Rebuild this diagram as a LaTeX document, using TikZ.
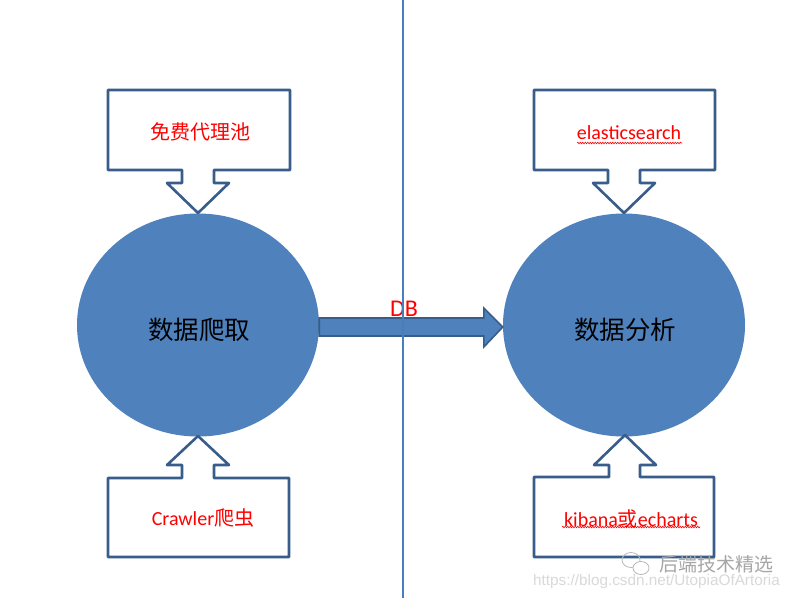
\documentclass[tikz,border=0pt]{standalone}
\usepackage{fontspec}
\setmainfont{Carlito}
\newfontfamily\cjk{Noto Sans CJK SC}
\newfontfamily\wm{Liberation Sans}
\usetikzlibrary{shapes.geometric,decorations.pathmorphing}
\definecolor{fillblue}{HTML}{4F81BD}
\definecolor{edgeblue}{HTML}{385D8A}
\definecolor{lineblue}{HTML}{4A7EBB}
\begin{document}
\begin{tikzpicture}[x=1pt,y=-1pt,
  callout/.style={draw=edgeblue,line width=2.6pt,line join=round,fill=white},
  blob/.style={ellipse,fill=fillblue,minimum width=242pt,minimum height=223pt,inner sep=0pt},
  bigtext/.style={font=\cjk\fontsize{25.5}{30}\selectfont,text=black},
  lbl/.style={font=\fontsize{20}{24}\selectfont,text=red},
  wavy/.style={draw=red,line width=0.6pt,decorate,decoration={snake,amplitude=0.8pt,segment length=2.5pt}}]
\useasboundingbox (0,0) rectangle (797,600);
\fill[white] (0,0) rectangle (797,600);
% ellipses
\node[blob] (crawl) at (198,325) {};
\node[blob] (analysis) at (624,325) {};
\node[bigtext] (crawltxt) at (199,330) {数据爬取};
\node[bigtext] (anatxt) at (625,330) {数据分析};
% callouts
\draw[callout] (108,90) -- (290,90) -- (290,170) -- (214,170) -- (214,183) -- (229,183) -- (198,213) -- (167,183) -- (182,183) -- (182,170) -- (108,170) -- cycle;
\draw[callout] (534,90) -- (715,90) -- (715,170) -- (640,170) -- (640,183) -- (655,183) -- (624,213) -- (593,183) -- (608,183) -- (608,170) -- (534,170) -- cycle;
\draw[callout] (108,557) -- (289,557) -- (289,478) -- (214,478) -- (214,465) -- (229,465) -- (198,436) -- (167,465) -- (182,465) -- (182,478) -- (108,478) -- cycle;
\draw[callout] (534,557) -- (714,557) -- (714,477) -- (640,477) -- (640,465) -- (656,465) -- (625,435) -- (594,465) -- (609,465) -- (609,477) -- (534,477) -- cycle;
\node[lbl] (proxy) at (200,132) {\cjk 免费代理池};
\node[lbl] (es) at (629,133) {elasticsearch};
\node[lbl] (crawler) at (203,518) {Crawler{\cjk 爬虫}};
\node[lbl] (kibana) at (631,519) {kibana{\cjk 或}echarts};
\draw[wavy] (577,143) -- (682,143);
\draw[wavy] (562,527) -- (700,527);
% DB arrow
\coordinate (s) at (crawl.east);
\coordinate (t) at (analysis.west);
\draw[draw=edgeblue,line width=1.6pt,fill=fillblue,line join=miter]
  ([yshift=7]s) -- ([xshift=-19,yshift=7]t) -- ([xshift=-19,yshift=17]t) -- ([yshift=-2]t)
  -- ([xshift=-19,yshift=-22]t) -- ([xshift=-19,yshift=-11]t) -- ([yshift=-11]s) -- cycle;
\node[font=\fontsize{24}{28}\selectfont,text=red] (db) at (404,309) {DB};
% divider
\draw[lineblue,line width=2pt] (403,0) -- (403,598);
% watermark
\draw[gray!55,line width=0.8pt] (631,560) ellipse (9pt and 7.5pt);
\draw[gray!55,line width=0.8pt,fill=white] (641,568) ellipse (8pt and 6.5pt);
\node[font=\cjk\fontsize{19}{22}\selectfont,text=gray!70,anchor=west] (wmtxt) at (656,564) {后端技术精选};
\node[font=\wm\fontsize{15.3}{18}\selectfont,text=gray!30,anchor=west,inner sep=0pt] (url) at (533,582) {https://blog.csdn.net/UtopiaOfArtoria};
\end{tikzpicture}
\end{document}
